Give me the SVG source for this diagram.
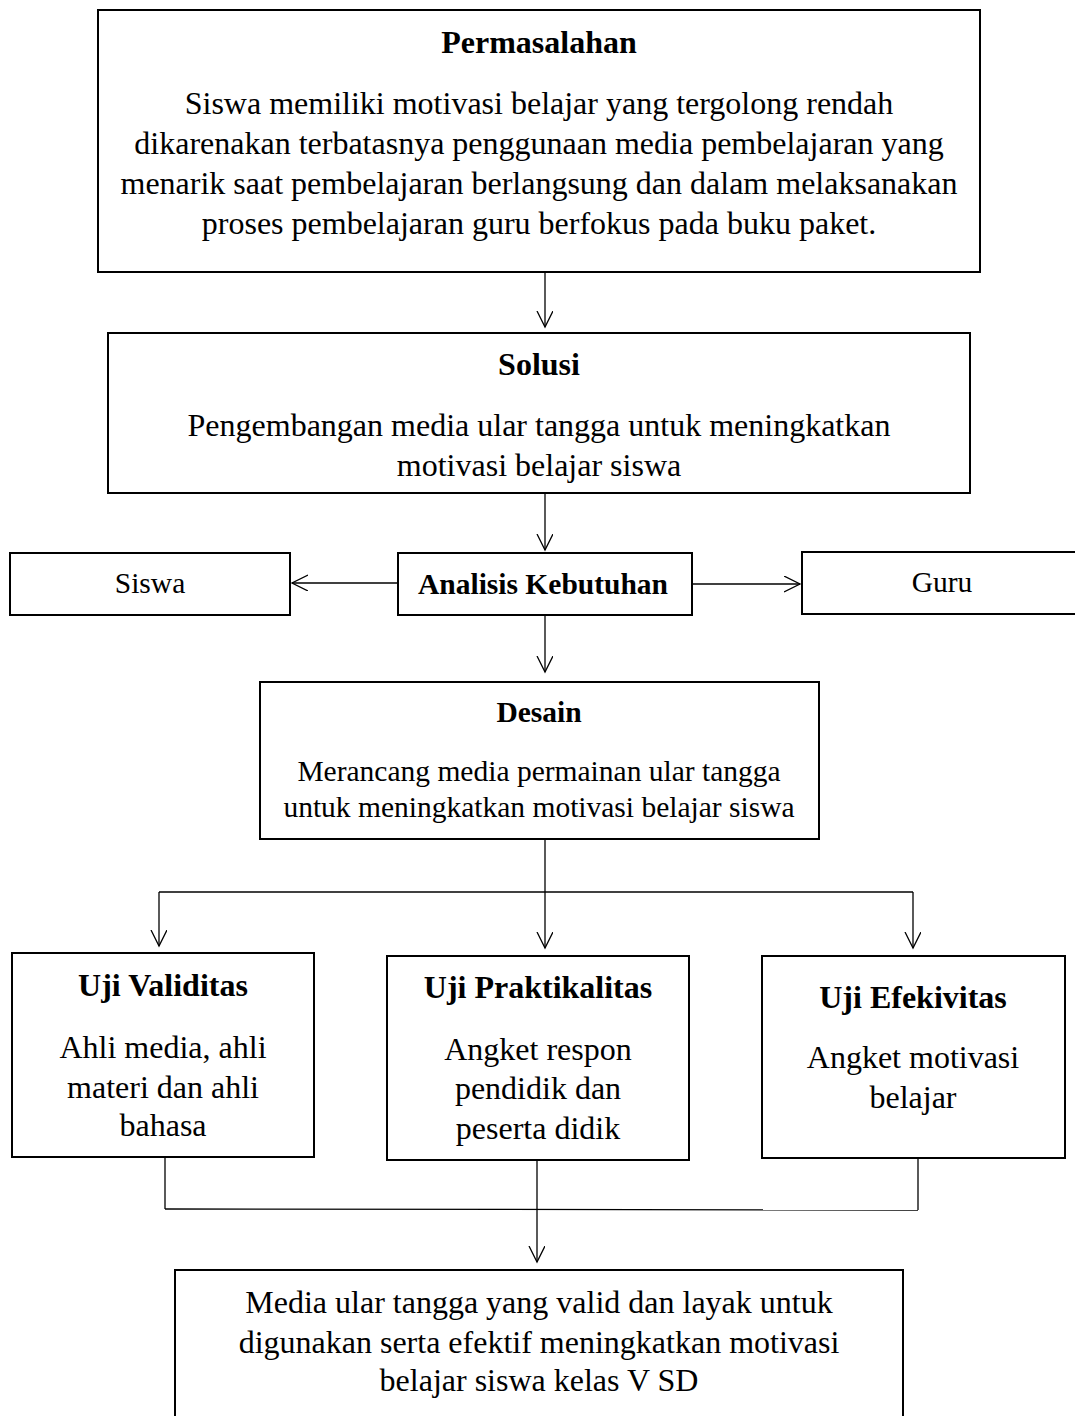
<svg xmlns="http://www.w3.org/2000/svg" width="1075" height="1416" viewBox="0 0 1075 1416">
<defs>
<style>
.box{fill:#fff;stroke:#000;stroke-width:2}
.t{font-family:"Liberation Serif","Times New Roman",serif;font-size:32px;text-anchor:middle;fill:#000}
.m{font-size:29.5px}
.b{font-weight:bold}
.c{fill:none;stroke:#000;stroke-width:1.3}
</style>
<marker id="ar" markerWidth="20" markerHeight="20" refX="16" refY="8" orient="auto" markerUnits="userSpaceOnUse">
<path d="M0,0 L16,8 L0,16" fill="none" stroke="#000" stroke-width="1.3"/>
</marker>
</defs>
<rect width="1075" height="1416" fill="#fff"/>
<g id="connectors">
<line class="c" x1="545" y1="272" x2="545" y2="327" marker-end="url(#ar)"/>
<line class="c" x1="545" y1="493" x2="545" y2="550" marker-end="url(#ar)"/>
<line class="c" x1="398" y1="583" x2="292" y2="583" marker-end="url(#ar)"/>
<line class="c" x1="692" y1="584" x2="800" y2="584" marker-end="url(#ar)"/>
<line class="c" x1="545" y1="615" x2="545" y2="672" marker-end="url(#ar)"/>
<line class="c" x1="545" y1="839" x2="545" y2="892"/>
<line class="c" x1="159" y1="892" x2="913" y2="892"/>
<line class="c" x1="159" y1="892" x2="159" y2="946" marker-end="url(#ar)"/>
<line class="c" x1="545" y1="892" x2="545" y2="948" marker-end="url(#ar)"/>
<line class="c" x1="913" y1="892" x2="913" y2="948" marker-end="url(#ar)"/>
<line class="c" x1="165" y1="1157" x2="165" y2="1209"/>
<line class="c" x1="918" y1="1158" x2="918" y2="1210"/>
<line class="c" x1="165" y1="1209" x2="918" y2="1210"/>
<line class="c" x1="537" y1="1160" x2="537" y2="1262" marker-end="url(#ar)"/>
</g>
<g id="permasalahan">
<rect class="box" x="98" y="10" width="882" height="262"/>
<text class="t b" x="539" y="53">Permasalahan</text>
<text class="t" x="539" y="114">Siswa memiliki motivasi belajar yang tergolong rendah</text>
<text class="t" x="539" y="154">dikarenakan terbatasnya penggunaan media pembelajaran yang</text>
<text class="t" x="539" y="194">menarik saat pembelajaran berlangsung dan dalam melaksanakan</text>
<text class="t" x="539" y="234">proses pembelajaran guru berfokus pada buku paket.</text>
</g>
<g id="solusi">
<rect class="box" x="108" y="333" width="862" height="160"/>
<text class="t b" x="539" y="375">Solusi</text>
<text class="t" x="539" y="436">Pengembangan media ular tangga untuk meningkatkan</text>
<text class="t" x="539" y="476">motivasi belajar siswa</text>
</g>
<g id="analisis">
<rect class="box" x="398" y="553" width="294" height="62"/>
<text class="t b m" x="543" y="594">Analisis Kebutuhan</text>
</g>
<g id="siswa">
<rect class="box" x="10" y="553" width="280" height="62"/>
<text class="t m" x="150" y="593">Siswa</text>
</g>
<g id="guru">
<rect class="box" x="802" y="552" width="280" height="62"/>
<text class="t m" x="942" y="592">Guru</text>
</g>
<g id="desain">
<rect class="box" x="260" y="682" width="559" height="157"/>
<text class="t b m" x="539" y="722">Desain</text>
<text class="t m" x="539" y="781">Merancang media permainan ular tangga</text>
<text class="t m" x="539" y="817">untuk meningkatkan motivasi belajar siswa</text>
</g>
<g id="uji-validitas">
<rect class="box" x="12" y="953" width="302" height="204"/>
<text class="t b" x="163" y="996">Uji Validitas</text>
<text class="t" x="163" y="1058">Ahli media, ahli</text>
<text class="t" x="163" y="1098">materi dan ahli</text>
<text class="t" x="163" y="1136">bahasa</text>
</g>
<g id="uji-praktikalitas">
<rect class="box" x="387" y="956" width="302" height="204"/>
<text class="t b" x="538" y="998">Uji Praktikalitas</text>
<text class="t" x="538" y="1060">Angket respon</text>
<text class="t" x="538" y="1099">pendidik dan</text>
<text class="t" x="538" y="1139">peserta didik</text>
</g>
<g id="uji-efekivitas">
<rect class="box" x="762" y="956" width="303" height="202"/>
<text class="t b" x="913" y="1008">Uji Efekivitas</text>
<text class="t" x="913" y="1068">Angket motivasi</text>
<text class="t" x="913" y="1108">belajar</text>
</g>
<g id="hasil">
<rect class="box" x="175" y="1270" width="728" height="160"/>
<text class="t" x="539" y="1313">Media ular tangga yang valid dan layak untuk</text>
<text class="t" x="539" y="1353">digunakan serta efektif meningkatkan motivasi</text>
<text class="t" x="539" y="1391">belajar siswa kelas V SD</text>
</g>
</svg>
